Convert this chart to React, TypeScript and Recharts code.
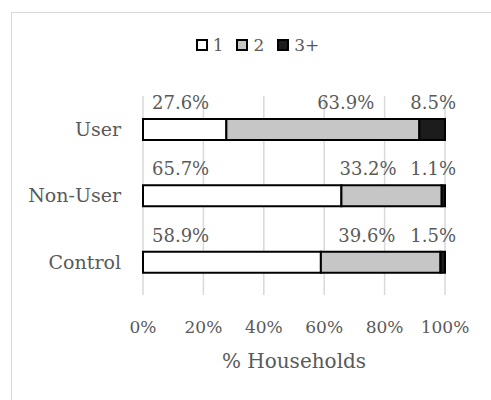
import React from "react";
import {
  BarChart,
  Bar,
  XAxis,
  YAxis,
  CartesianGrid,
  Legend,
  LabelList,
} from "recharts";

const groups = ["User", "Non-User", "Control"];
const oneValues = [0.276, 0.657, 0.589];
const twoValues = [0.639, 0.332, 0.396];
const threePlusValues = [0.085, 0.011, 0.015];
const xTicks = [0, 0.2, 0.4, 0.6, 0.8, 1];

const seriesInfo = [
  { key: "one", name: "1", fill: "#ffffff" },
  { key: "two", name: "2", fill: "#c6c6c6" },
  { key: "three", name: "3+", fill: "#1c1c1c" },
];

const data = groups.map((g, i) => ({
  name: g,
  one: oneValues[i],
  two: twoValues[i],
  three: threePlusValues[i],
}));

const FONT = '"DejaVu Serif", "Liberation Serif", serif';
const TEXT = "#595959";

const pct = (v: number) => `${(v * 100).toFixed(1)}%`;

// labels sit above the bar, like the original excel layout
const makeLabel =
  (mode: "start" | "mid" | "end") =>
  (props: any) => {
    const { x, y, width, value } = props;
    let tx = x + 9;
    let anchor: "start" | "end" = "start";
    if (mode === "mid") {
      tx = x + width - 45;
      anchor = "end";
    } else if (mode === "end") {
      tx = x + width + 11;
      anchor = "end";
    }
    return (
      <text
        x={tx}
        y={y - 10}
        textAnchor={anchor}
        fill={TEXT}
        fontFamily={FONT}
        fontSize={18}
      >
        {pct(value)}
      </text>
    );
  };

const LegendBox = () => (
  <div
    style={{
      height: 66,
      display: "flex",
      justifyContent: "center",
      paddingLeft: 37,
      paddingTop: 7,
      boxSizing: "border-box",
      fontFamily: FONT,
      fontSize: 17,
      color: TEXT,
    }}
  >
    {seriesInfo.map((s) => (
      <div
        key={s.key}
        style={{
          display: "flex",
          alignItems: "center",
          marginRight: 13,
          height: 16,
        }}
      >
        <span
          style={{
            width: 8,
            height: 8,
            border: "2px solid #000",
            background: s.fill,
            marginRight: 5,
            display: "inline-block",
          }}
        />
        <span>{s.name}</span>
      </div>
    ))}
  </div>
);

export default function App() {
  return (
    <div
      style={{
        position: "absolute",
        left: 0,
        top: 0,
        width: 491,
        height: 400,
        overflow: "hidden",
        background: "#fff",
      }}
    >
      <div
        style={{
          position: "absolute",
          left: 11,
          top: 12,
          width: 600,
          height: 500,
          border: "1.5px solid #d9d9d9",
        }}
      />
      <div style={{ position: "absolute", left: 0, top: 0 }}>
        <BarChart
          width={491}
          height={400}
          data={data}
          layout="vertical"
          barSize={21}
          margin={{ top: 30, right: 46, left: 0, bottom: 25 }}
        >
          <CartesianGrid
            horizontal={false}
            stroke="#d9d9d9"
            strokeWidth={1.5}
          />
          <Legend
            verticalAlign="top"
            wrapperStyle={{ left: 0, width: 491 }}
            content={<LegendBox />}
          />
          <XAxis
            type="number"
            domain={[0, 1]}
            ticks={xTicks}
            tickFormatter={(v) => `${Math.round(v * 100)}%`}
            axisLine={false}
            tickLine={false}
            tickSize={0}
            tickMargin={26}
            height={80}
            tick={{ fill: TEXT, fontFamily: FONT, fontSize: 17 }}
            label={{
              value: "% Households",
              position: "insideBottom",
              offset: 7,
              fill: TEXT,
              fontFamily: FONT,
              fontSize: 20,
            }}
          />
          <YAxis
            type="category"
            dataKey="name"
            width={143}
            axisLine={false}
            tickLine={false}
            tickSize={0}
            tickMargin={22}
            tick={{ fill: TEXT, fontFamily: FONT, fontSize: 19 }}
          />
          <Bar
            dataKey="one"
            name="1"
            stackId="a"
            fill="#ffffff"
            stroke="#000"
            strokeWidth={2}
            isAnimationActive={false}
          >
            <LabelList dataKey="one" content={makeLabel("start")} />
          </Bar>
          <Bar
            dataKey="two"
            name="2"
            stackId="a"
            fill="#c6c6c6"
            stroke="#000"
            strokeWidth={2}
            isAnimationActive={false}
          >
            <LabelList dataKey="two" content={makeLabel("mid")} />
          </Bar>
          <Bar
            dataKey="three"
            name="3+"
            stackId="a"
            fill="#1c1c1c"
            stroke="#000"
            strokeWidth={2}
            isAnimationActive={false}
          >
            <LabelList dataKey="three" content={makeLabel("end")} />
          </Bar>
        </BarChart>
      </div>
    </div>
  );
}
